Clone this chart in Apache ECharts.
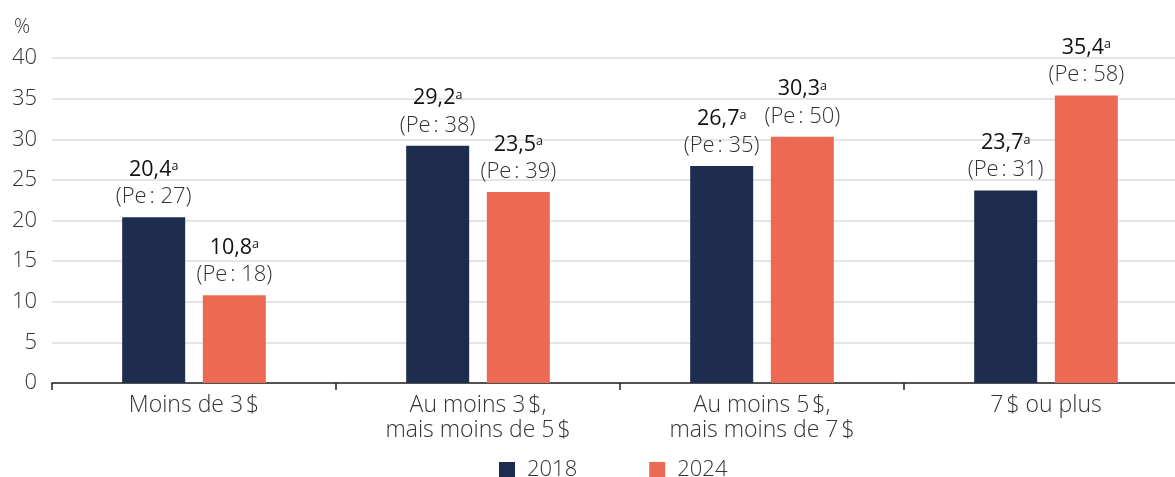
<!DOCTYPE html>
<html>
<head>
<meta charset="utf-8">
<script src="https://cdn.jsdelivr.net/npm/echarts@6/dist/echarts.min.js"></script>
<style>
  html, body { margin: 0; padding: 0; background: #fff; }
  #chart { width: 1175px; height: 477px; }
</style>
</head>
<body>
<div id="chart"></div>
<script>
// Catégories et valeurs (%), avec les effectifs (Pe) affichés sous chaque valeur
const categories = [
  'Moins de 3\u202f$',
  'Au moins 3\u202f$,\nmais moins de 5\u202f$',
  'Au moins 5\u202f$,\nmais moins de 7\u202f$',
  '7\u202f$ ou plus'
]
const values2018 = [20.4, 29.2, 26.7, 23.7]
const values2024 = [10.8, 23.5, 30.3, 35.4]
const pe2018 = [27, 38, 35, 31]
const pe2024 = [18, 39, 50, 58]
const yTicks = { min: 0, max: 40, interval: 5 }

const FONT = "'Open Sans', 'Noto Sans', sans-serif"
const NAVY = '#1e2c4e'
const CORAL = '#ec6a54'

const fmt = (v) => v.toFixed(1).replace('.', ',')

const makeLabel = (pe) => ({
  show: true,
  position: 'top',
  distance: 7,
  fontFamily: FONT,
  formatter: (p) => `{v|${fmt(p.value)}}{s|a}\n{p|(Pe\u202f: ${pe[p.dataIndex]})}`,
  rich: {
    v: { fontSize: 21.5, fontWeight: 'normal', color: '#111', lineHeight: 27, fontFamily: FONT },
    s: { fontSize: 12.5, color: '#111', verticalAlign: 'top', lineHeight: 27, padding: [4, 0, 0, 0], fontFamily: FONT },
    p: { fontSize: 22, fontWeight: 300, color: '#333', lineHeight: 27, fontFamily: FONT }
  }
})

const chart = echarts.init(document.getElementById('chart'), null, { renderer: 'canvas' })

chart.setOption({
  animation: false,
  textStyle: { fontFamily: FONT },
  title: {
    text: '%',
    left: 9,
    top: 12,
    textStyle: { fontSize: 20, fontWeight: 300, color: '#333', fontFamily: FONT }
  },
  // l'axe continue au-delà du bord droit de l'image
  grid: { left: 52, width: 1136, top: 58, bottom: 94, outerBoundsMode: 'none' },
  legend: {
    data: ['2018', '2024'],
    left: 494,
    top: 454,
    icon: 'rect',
    itemWidth: 16,
    itemHeight: 16,
    itemGap: 72,
    textStyle: { fontSize: 22, fontWeight: 300, color: '#333', fontFamily: FONT, padding: [0, 0, 0, 7] }
  },
  xAxis: {
    type: 'category',
    data: categories,
    axisLine: { lineStyle: { color: '#222', width: 1.5 } },
    axisTick: { show: true, length: 7, lineStyle: { color: '#222', width: 1.5 } },
    axisLabel: { fontSize: 23, fontWeight: 300, color: '#333', lineHeight: 25, margin: 10, fontFamily: FONT }
  },
  yAxis: {
    type: 'value',
    min: yTicks.min,
    max: yTicks.max,
    interval: yTicks.interval,
    axisLine: { show: false },
    axisTick: { show: false },
    axisLabel: { fontSize: 22, fontWeight: 300, color: '#333', margin: 15, fontFamily: FONT },
    splitLine: { lineStyle: { color: '#dcdcdc', width: 1.5 } }
  },
  series: [
    {
      name: '2018',
      type: 'bar',
      data: values2018,
      barWidth: 63,
      barGap: '28%',
      itemStyle: { color: NAVY },
      label: makeLabel(pe2018)
    },
    {
      name: '2024',
      type: 'bar',
      data: values2024,
      barWidth: 63,
      itemStyle: { color: CORAL },
      label: makeLabel(pe2024)
    }
  ]
})
</script>
</body>
</html>
